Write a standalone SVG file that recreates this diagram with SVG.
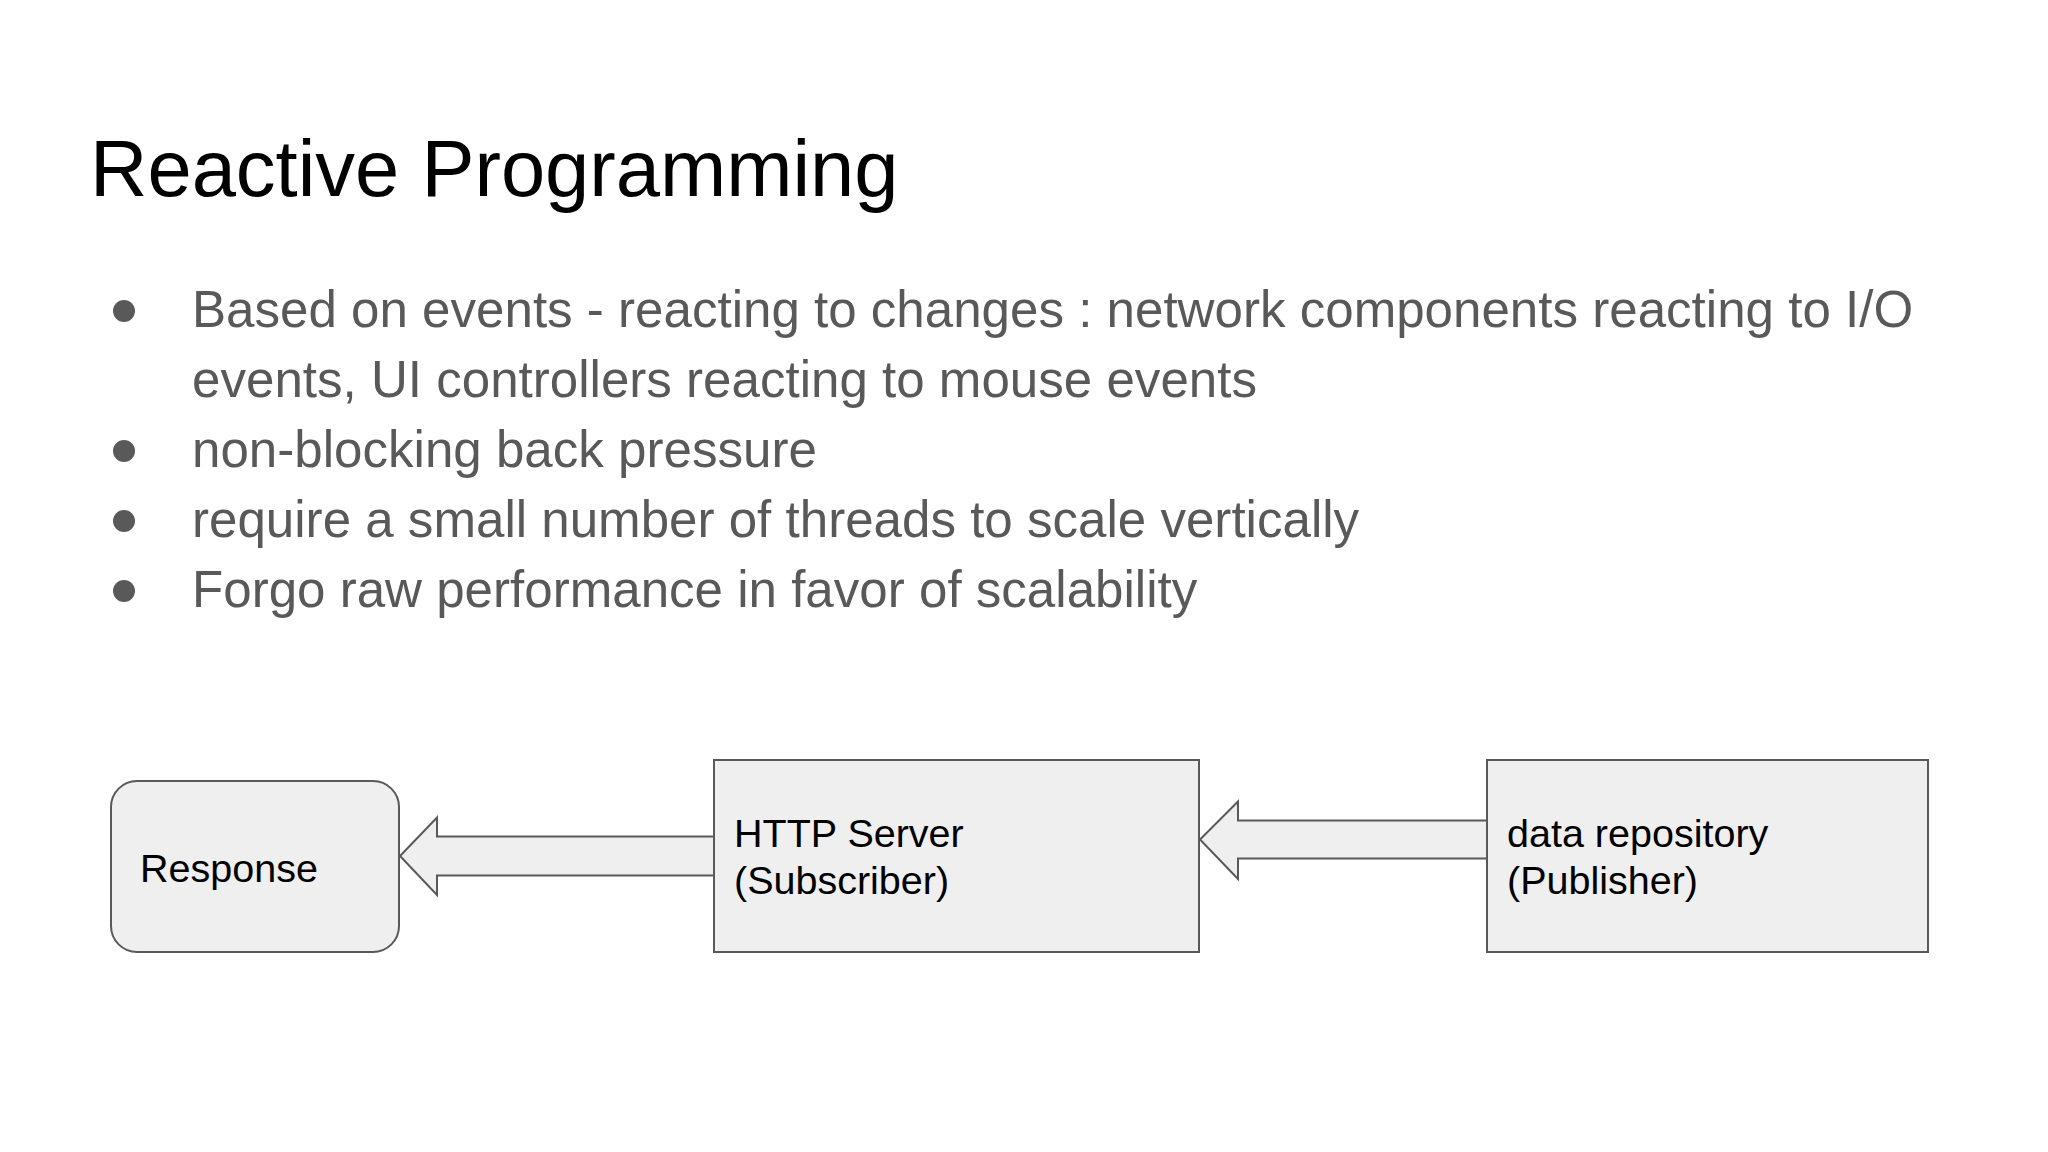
<svg xmlns="http://www.w3.org/2000/svg" width="2048" height="1152" viewBox="0 0 2048 1152">
<style>
.title{font-family:"Liberation Sans",Arial,sans-serif;font-size:79.5px;fill:#000}
.bullet{font-family:"Liberation Sans",Arial,sans-serif;font-size:51.1px;fill:#595959}
.dot{fill:#595959}
.box{fill:#efefef;stroke:#595959;stroke-width:2}
.lbl{font-family:"Liberation Sans",Arial,sans-serif;font-size:39.5px;fill:#000}
</style>
<rect width="2048" height="1152" fill="#fff"/>
<text class="title" x="90" y="196">Reactive Programming</text>
<g id="bullets">
<circle class="dot" cx="124" cy="311" r="11"/>
<circle class="dot" cx="124" cy="451" r="11"/>
<circle class="dot" cx="124" cy="521" r="11"/>
<circle class="dot" cx="124" cy="591" r="11"/>
<text class="bullet" x="192" y="327">Based on events - reacting to changes : network components reacting to I/O</text>
<text class="bullet" x="192" y="397">events, UI controllers reacting to mouse events</text>
<text class="bullet" x="192" y="467">non-blocking back pressure</text>
<text class="bullet" x="192" y="537">require a small number of threads to scale vertically</text>
<text class="bullet" x="192" y="607">Forgo raw performance in favor of scalability</text>
</g>
<g id="connectors">
<polygon class="box" points="714,836.5 437,836.5 437,817.5 400,856 437,895 437,875.5 714,875.5"/>
<polygon class="box" points="1487,820.5 1238,820.5 1238,801.5 1200,839.5 1238,879 1238,858.5 1487,858.5"/>
</g>
<g id="response">
<rect class="box" x="111" y="781" width="288" height="171" rx="26" ry="26"/>
<text class="lbl" x="140" y="882">Response</text>
</g>
<g id="http-server">
<rect class="box" x="714" y="760" width="485" height="192"/>
<text class="lbl" x="734" y="847">HTTP Server</text>
<text class="lbl" x="734" y="894">(Subscriber)</text>
</g>
<g id="data-repository">
<rect class="box" x="1487" y="760" width="441" height="192"/>
<text class="lbl" x="1507" y="847">data repository</text>
<text class="lbl" x="1507" y="894">(Publisher)</text>
</g>
</svg>
